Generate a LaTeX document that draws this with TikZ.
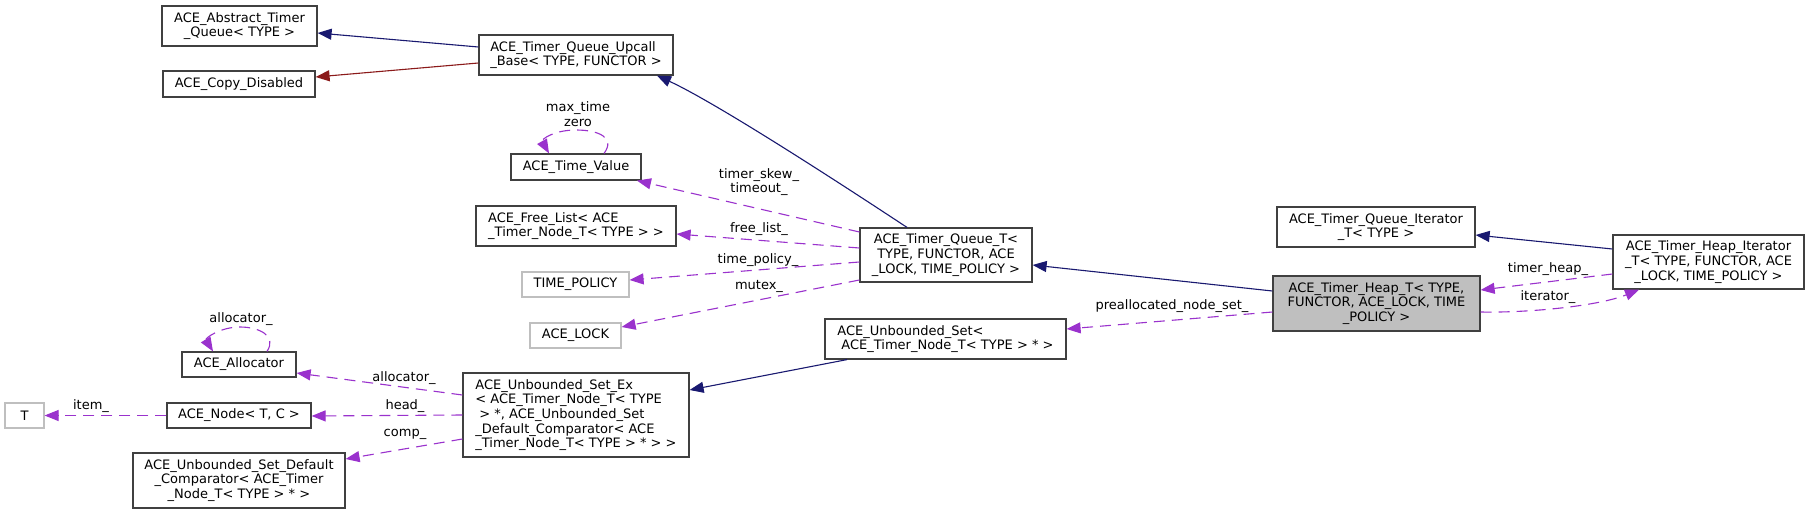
\documentclass[tikz,border=0pt]{standalone}
\usepackage{fontspec}
\setmainfont{DejaVu Sans}
\usetikzlibrary{arrows.meta}
\definecolor{edgeblue}{HTML}{191970}
\definecolor{edgered}{HTML}{8B1A1A}
\definecolor{edgepurple}{HTML}{9A32CD}
\definecolor{boxline}{HTML}{404040}
\definecolor{boxgray}{HTML}{BFBFBF}
\begin{document}
\begin{tikzpicture}[x=1pt,y=-1pt,
  txt/.style={font=\fontsize{13}{14.7}\selectfont},
  box/.style={txt,draw=boxline,line width=1.2pt,inner sep=0pt,align=center,fill=white},
  lbox/.style={box,align=left},
  gbox/.style={box,draw=boxgray},
  lbl/.style={txt,inner sep=0pt,align=center},
  inhb/.style={draw=edgeblue,line width=1.1pt,-{Triangle[length=14pt,width=11pt]}},
  inhr/.style={draw=edgered,line width=1.1pt,-{Triangle[length=14pt,width=11pt]}},
  dep/.style={draw=edgepurple,line width=1.1pt,dash pattern=on 11pt off 7pt,-{Triangle[length=14pt,width=11pt]}}
]
\useasboundingbox (0,0) rectangle (1809,514);
\fill[white] (0,0) rectangle (1809,514);

% nodes
\node[box,minimum width=155pt,minimum height=40pt] (abs) at (239.5,26) {ACE\_Abstract\_Timer\\\_Queue< TYPE >};
\node[box,minimum width=152pt,minimum height=26pt] (copy) at (239,84) {ACE\_Copy\_Disabled};
\node[lbox,minimum width=194pt,minimum height=40pt] (upcall) at (576,55) {ACE\_Timer\_Queue\_Upcall\\\_Base< TYPE, FUNCTOR >};
\node[box,minimum width=130pt,minimum height=26pt] (tv) at (576,167) {ACE\_Time\_Value};
\node[lbox,minimum width=200pt,minimum height=40pt] (fl) at (576,226) {ACE\_Free\_List< ACE\\\_Timer\_Node\_T< TYPE > >};
\node[gbox,minimum width=107pt,minimum height=25pt] (tp) at (575.5,284.5) {TIME\_POLICY};
\node[gbox,minimum width=91pt,minimum height=25pt] (lock) at (575.5,335.5) {ACE\_LOCK};
\node[box,minimum width=114pt,minimum height=25pt] (alloc) at (239,364.5) {ACE\_Allocator};
\node[gbox,minimum width=39pt,minimum height=25pt] (T) at (24.5,415.5) {T};
\node[box,minimum width=144pt,minimum height=25pt] (node) at (239,415.5) {ACE\_Node< T, C >};
\node[box,minimum width=212pt,minimum height=55pt] (comp) at (239,480.5) {ACE\_Unbounded\_Set\_Default\\\_Comparator< ACE\_Timer\\\_Node\_T< TYPE > * >};
\node[lbox,minimum width=226pt,minimum height=84pt] (usex) at (576,415) {ACE\_Unbounded\_Set\_Ex\\< ACE\_Timer\_Node\_T< TYPE\\\hspace*{4pt}> *, ACE\_Unbounded\_Set\\\_Default\_Comparator< ACE\\\_Timer\_Node\_T< TYPE > * > >};
\node[lbox,minimum width=241pt,minimum height=40pt] (us) at (945.5,339) {ACE\_Unbounded\_Set<\\\hspace*{4pt}ACE\_Timer\_Node\_T< TYPE > * >};
\node[box,minimum width=172pt,minimum height=54pt] (tq) at (946,255) {ACE\_Timer\_Queue\_T<\\TYPE, FUNCTOR, ACE\\\_LOCK, TIME\_POLICY >};
\node[box,fill=boxgray,minimum width=207pt,minimum height=55pt] (heap) at (1376.5,303.5) {ACE\_Timer\_Heap\_T< TYPE,\\FUNCTOR, ACE\_LOCK, TIME\\\_POLICY >};
\node[box,minimum width=198pt,minimum height=40pt] (qit) at (1376,227) {ACE\_Timer\_Queue\_Iterator\\\_T< TYPE >};
\node[box,minimum width=191pt,minimum height=54pt] (hit) at (1708.5,262) {ACE\_Timer\_Heap\_Iterator\\\_T< TYPE, FUNCTOR, ACE\\\_LOCK, TIME\_POLICY >};

% inheritance edges
\draw[inhb] ([yshift=8pt]upcall.west) -- ([yshift=-7pt]abs.east);
\draw[inhr] ([yshift=-8pt]upcall.west) -- ([yshift=7pt]copy.east);
\draw[inhb] ([xshift=-39pt]tq.north) .. controls +(-47,-31) and +(63,29) .. ([xshift=81pt]upcall.south);
\draw[inhb] ([yshift=12.5pt]heap.west) -- ([yshift=-10pt]tq.east);
\draw[inhb] ([xshift=-98.5pt]us.south) -- ([yshift=25pt]usex.east);
\draw[inhb] ([yshift=13pt]hit.west) -- ([yshift=-8pt]qit.east);

% usage edges
\coordinate (tvtop) at (576,130);
\draw[dep] ([xshift=28pt]tv.north) .. controls +(12,-16) and +(22,0) .. (tvtop) .. controls +(-22,0) and +(-8,-14) .. ([xshift=-27pt]tv.north);
\node[lbl] (lmax) at (578,114.5) {max\_time\\zero};

\draw[dep] ([yshift=23pt]tq.west) -- ([xshift=61pt]tv.south);
\node[lbl] (lskew) at (759,182) {timer\_skew\_\\timeout\_};
\draw[dep] ([yshift=7pt]tq.west) -- ([yshift=-8pt]fl.east);
\node[lbl] (lfree) at (759,229) {free\_list\_};
\draw[dep] ([yshift=-7pt]tq.west) -- ([yshift=4.5pt]tp.east);
\node[lbl] (ltp) at (758,260) {time\_policy\_};
\draw[dep] ([yshift=-25pt]tq.west) -- ([yshift=8.5pt]lock.east);
\node[lbl] (lmutex) at (759,286) {mutex\_};

\draw[dep] ([yshift=-8.5pt]heap.west) -- ([yshift=10pt]us.east);
\node[lbl] (lpre) at (1172,306) {preallocated\_node\_set\_};

\coordinate (altop) at (240,327);
\draw[dep] ([xshift=28pt]alloc.north) .. controls +(10,-15) and +(20,0) .. (altop) .. controls +(-20,0) and +(-8,-13) .. ([xshift=-26pt]alloc.north);
\node[lbl] (lal1) at (241,319) {allocator\_};

\draw[dep] ([yshift=20pt]usex.west) -- ([yshift=-8.5pt]alloc.east);
\node[lbl] (lal2) at (404,378) {allocator\_};
\draw[dep] (usex.west) -- ([yshift=-0.5pt]node.east);
\node[lbl] (lhead) at (405,406) {head\_};
\draw[dep] ([yshift=-24pt]usex.west) -- ([yshift=21.5pt]comp.east);
\node[lbl] (lcomp) at (405,434) {comp\_};
\draw[dep] (node.west) -- (T.east);
\node[lbl] (litem) at (91,406) {item\_};

\draw[dep] ([yshift=-12pt]hit.west) -- ([yshift=13.5pt]heap.east);
\node[lbl] (lth) at (1548,269) {timer\_heap\_};
\draw[dep] ([yshift=-8.5pt]heap.east) .. controls +(50,1) and +(-39,16) .. ([xshift=-69.5pt]hit.south);
\node[lbl] (lit) at (1548,297) {iterator\_};
\end{tikzpicture}
\end{document}
